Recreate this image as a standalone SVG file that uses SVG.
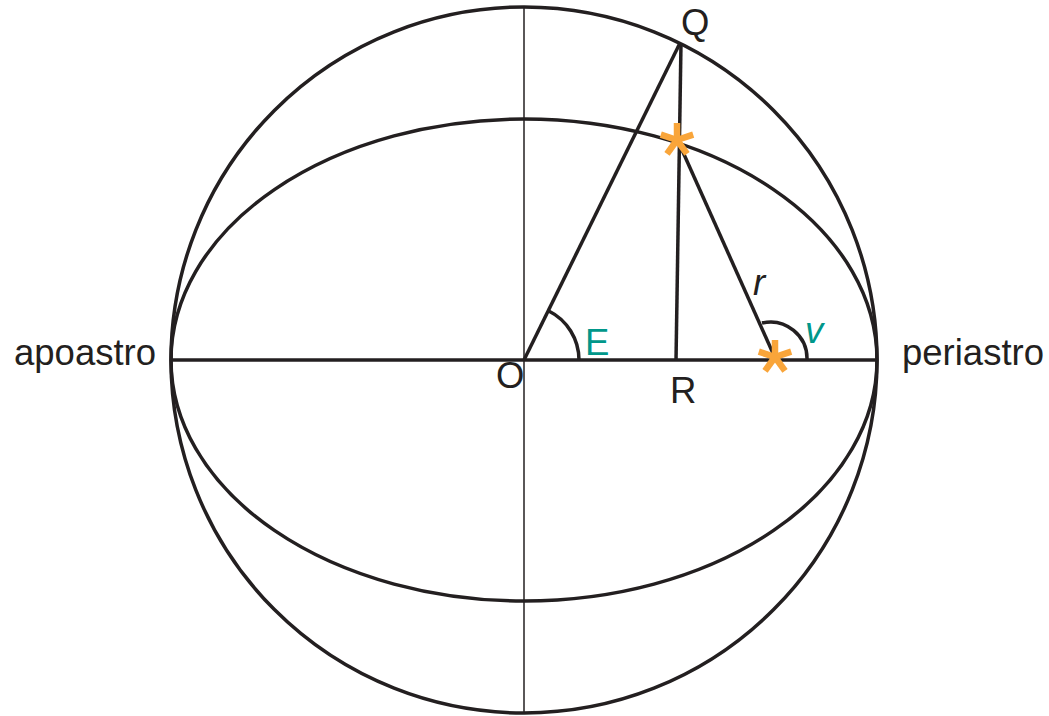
<svg xmlns="http://www.w3.org/2000/svg" width="1049" height="716" viewBox="0 0 1049 716">
<style>
.ln{fill:none;stroke:#231f20;stroke-width:3.5}
.thin{fill:none;stroke:#231f20;stroke-width:1.5}
.lbl{font-family:"Liberation Sans",Arial,sans-serif;font-size:36.5px;fill:#231f20}
.it{font-style:italic}
.teal{fill:#00978a}
.star line{stroke:#f9a53a;stroke-width:6.5;stroke-linecap:butt}
</style>
<defs>
<g id="star" class="star">
<line x1="0" y1="0" x2="0" y2="-17"/>
<line x1="0" y1="0" x2="16.2" y2="-5.3"/>
<line x1="0" y1="0" x2="10" y2="13.8"/>
<line x1="0" y1="0" x2="-10" y2="13.8"/>
<line x1="0" y1="0" x2="-16.2" y2="-5.3"/>
</g>
</defs>
<rect width="1049" height="716" fill="#fff"/>
<g id="orbits">
<circle id="circle" class="ln" cx="524" cy="360" r="353"/>
<ellipse id="ellipse" class="ln" cx="524" cy="360" rx="353" ry="241"/>
</g>
<g id="connectors">
<line class="thin" x1="524" y1="7" x2="524" y2="713"/>
<line class="ln" x1="171" y1="360" x2="877" y2="360"/>
<line class="ln" x1="524" y1="360" x2="680" y2="43"/>
<line class="ln" x1="681" y1="43" x2="676" y2="361"/>
<line class="ln" x1="678" y1="141" x2="776" y2="360"/>
<path class="ln" d="M548.3,310.7 A55,55 0 0 1 579,360"/>
<path class="ln" d="M762,323 A36.7,36.7 0 0 1 807,360"/>
</g>
<g id="star-planet"><use href="#star" x="677" y="140"/></g>
<g id="star-focus"><use href="#star" x="775" y="357"/></g>
<g id="labels">
<text class="lbl" x="14" y="365">apoastro</text>
<text class="lbl" x="902" y="365">periastro</text>
<text class="lbl" x="681" y="35">Q</text>
<text class="lbl" x="496" y="388">O</text>
<text class="lbl" x="670" y="403">R</text>
<text class="lbl teal" x="585" y="355">E</text>
<text class="lbl it" x="753" y="295">r</text>
<text class="lbl it teal" x="805" y="343">v</text>
</g>
</svg>
